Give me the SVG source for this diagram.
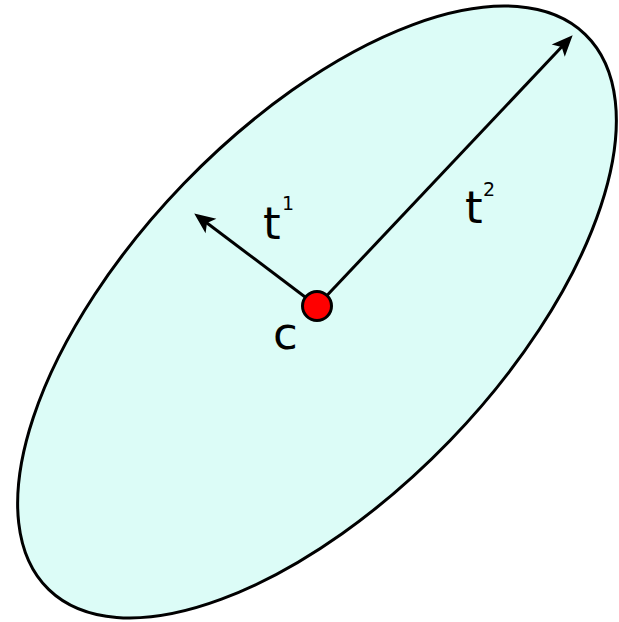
<svg xmlns="http://www.w3.org/2000/svg" width="619" height="622" viewBox="0 0 619 622">
  <style>
    .lbl { font-family: "DejaVu Sans", "Liberation Sans", sans-serif; fill: #000; }
    .main { font-size: 45px; }
    .sup { font-size: 19px; }
    .vec { stroke: #000; stroke-width: 3; fill: none; marker-end: url(#arr); }
  </style>
  <defs>
    <marker id="arr" markerUnits="userSpaceOnUse" markerWidth="30" markerHeight="30" viewBox="-15 -15 30 30" refX="0" refY="0" orient="auto">
      <path d="M11,0 L-10,-9 L-5,0 L-10,9 Z" fill="#000"/>
    </marker>
  </defs>
  <g id="ellipse">
    <ellipse cx="317" cy="312" rx="386" ry="185" transform="rotate(-46 317 312)" fill="#dcfcf7" stroke="#000" stroke-width="3"/>
  </g>
  <g id="connectors">
    <line class="vec" x1="317" y1="306" x2="203" y2="220"/>
    <line class="vec" x1="317" y1="306" x2="565.1" y2="43.3"/>
  </g>
  <g id="c">
    <circle cx="317" cy="306" r="14.5" fill="#ff0000" stroke="#000" stroke-width="3"/>
    <text class="lbl main" x="273" y="349">c</text>
  </g>
  <g id="t1">
    <text class="lbl main" x="263" y="239">t</text>
    <text class="lbl sup" x="282" y="210">1</text>
  </g>
  <g id="t2">
    <text class="lbl main" x="465" y="223">t</text>
    <text class="lbl sup" x="483" y="196">2</text>
  </g>
</svg>
